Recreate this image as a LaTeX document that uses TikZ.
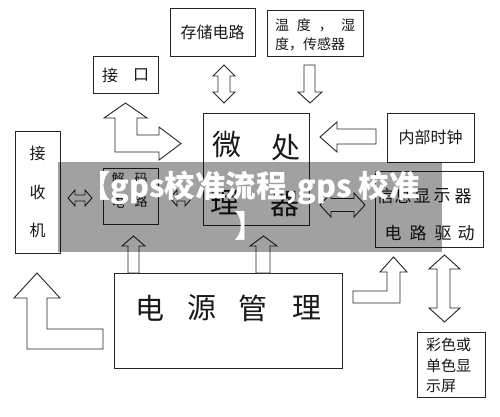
\documentclass[tikz,border=0pt]{standalone}
\usepackage{fontspec}
\newfontfamily\cjk{Noto Sans CJK SC}
\tikzset{
  box/.style={draw=black!85, line width=1pt, inner sep=0pt},
  blk/.style={draw=black!85, line width=0.9pt, fill=white, line join=miter},
  t/.style={inner sep=0pt, text=black!90, font=\cjk\fontsize{#1}{#1}\selectfont},
  t/.default=16,
  wm/.style={inner sep=0pt, text=white, font=\cjk\bfseries\fontsize{30.5}{30.5}\selectfont}
}
\begin{document}
\begin{tikzpicture}[x=1pt,y=-1pt]
\useasboundingbox (0,0) rectangle (500,416);
\fill[white] (0,0) rectangle (500,416);

% boxes
\node[box, minimum width=85pt, minimum height=48pt] (store) at (212.5,32) {};
\node[box, minimum width=96pt, minimum height=46pt] (sensor) at (315,33) {};
\node[box, minimum width=65pt, minimum height=37pt] (iface) at (125.5,74.5) {};
\node[box, minimum width=106pt, minimum height=112pt] (cpu) at (256,169) {};
\node[box, minimum width=87pt, minimum height=49pt] (clock) at (430.5,137.5) {};
\node[box, minimum width=45pt, minimum height=122pt] (recv) at (37.5,192) {};
\node[box, minimum width=55pt, minimum height=56pt] (decode) at (130.5,196) {};
\node[box, minimum width=108pt, minimum height=76pt] (disp) at (429,209) {};
\node[box, minimum width=228pt, minimum height=95pt] (power) at (228,320.5) {};
\node[box, minimum width=68pt, minimum height=65pt] (screen) at (451,364.5) {};

% texts
\node[t=16] (tstore) at (212.5,32) {存储电路};
\node[t=14] (ts1) at (315,25) {\hbox to 80pt{温\hfill 度\hfill ，\hfill 湿}};
\node[t=14, anchor=west] (ts2) at (275,44) {度，传感器};
\node[t=16] (ti1) at (110,75) {接};
\node[t=16] (ti2) at (141,75) {口};
\node[t=16] (tclock) at (430.5,137) {内部时钟};
\node[t=16] (tr1) at (37.5,153) {接};
\node[t=16] (tr2) at (37.5,192) {收};
\node[t=16] (tr3) at (37.5,230) {机};
\node[t=13] (td1) at (118,179) {解};
\node[t=13] (td2) at (141,179) {码};
\node[t=13] (td3) at (118,202) {电};
\node[t=13] (td4) at (141,202) {路};
\node[t=29] (tc1) at (227,145) {微};
\node[t=29] (tc2) at (286,148) {处};
\node[t=29] (tc3) at (225,203) {理};
\node[t=29] (tc4) at (285,204) {器};
\node[t=17] (tp1) at (385,196) {信};
\node[t=17] (tp2) at (403,196) {息};
\node[t=17] (tp3) at (422,196) {显};
\node[t=17] (tp4) at (442,196) {示};
\node[t=17] (tp5) at (463,196) {器};
\node[t=17] (tq1) at (393,233) {电};
\node[t=17] (tq2) at (418,233) {路};
\node[t=17] (tq3) at (443,233) {驱};
\node[t=17] (tq4) at (466,233) {动};
\node[t=29] (tw1) at (150,308) {电};
\node[t=29] (tw2) at (202,308) {源};
\node[t=29] (tw3) at (253,308) {管};
\node[t=29] (tw4) at (307,308) {理};
\node[t=15, anchor=west] (tx1) at (426,345) {彩色或};
\node[t=15, anchor=west] (tx2) at (426,366) {单色显};
\node[t=15, anchor=west] (tx3) at (426,386) {示屏};

% block arrows
% store <-> cpu
\draw[blk] (224,65) -- (235,76) -- (230,76) -- (230,92) -- (235,92) -- (224,103)
  -- (213,92) -- (218,92) -- (218,76) -- (213,76) -- cycle;
% sensor -> cpu
\draw[blk] (304,65) -- (315,65) -- (315,92) -- (322,92) -- (310,103) -- (298,92) -- (304,92) -- cycle;
% clock -> cpu
\draw[blk] (320,137) -- (337,122) -- (337,129) -- (376,129) -- (376,144) -- (337,144) -- (337,152) -- cycle;
% iface / cpu L arrow
\draw[blk] (125.5,103) -- (147,118) -- (137,118) -- (137,135) -- (159,135) -- (159,127)
  -- (181,143.5) -- (159,160) -- (159,152) -- (115,152) -- (115,118) -- (104,118) -- cycle;
% recv <-> decode
\draw[blk] (68,198) -- (75,190) -- (75,195) -- (85,195) -- (85,190) -- (92,198)
  -- (85,206) -- (85,201) -- (75,201) -- (75,206) -- cycle;
% decode <-> cpu
\draw[blk] (170,198) -- (177,190) -- (177,195) -- (185,195) -- (185,190) -- (192,198)
  -- (185,206) -- (185,201) -- (177,201) -- (177,206) -- cycle;
% cpu <-> disp
\draw[blk] (320,205) -- (331,193) -- (331,198.5) -- (354,198.5) -- (354,193) -- (365,205)
  -- (354,217) -- (354,211.5) -- (331,211.5) -- (331,217) -- cycle;
% power -> decode
\draw[blk] (133.5,236) -- (145,246) -- (139,246) -- (139,273) -- (128,273) -- (128,246) -- (122,246) -- cycle;
% power -> cpu
\draw[blk] (263.5,236) -- (277,246) -- (270,246) -- (270,273) -- (256,273) -- (256,246) -- (250,246) -- cycle;
% power -> disp L arrow
\draw[blk] (393.5,257) -- (407,272) -- (400,272) -- (400,303) -- (353,303) -- (353,291)
  -- (387,291) -- (387,272) -- (380,272) -- cycle;
% disp <-> screen
\draw[blk] (444.5,255) -- (460,269) -- (450,269) -- (450,308) -- (460,308) -- (444.5,322)
  -- (429,308) -- (437,308) -- (437,269) -- (429,269) -- cycle;
% big L arrow to receiver
\draw[blk] (37,273) -- (60,298) -- (47,298) -- (47,329) -- (103,329) -- (103,349)
  -- (27,349) -- (27,298) -- (14,298) -- cycle;

% watermark band
\fill[black, fill opacity=0.37] (58,162) rectangle (442,252);
\node[wm] (wm1) at (250,188) {【gps校准流程,gps 校准};
\node[wm] (wm2) at (250,226) {】};
\end{tikzpicture}
\end{document}
